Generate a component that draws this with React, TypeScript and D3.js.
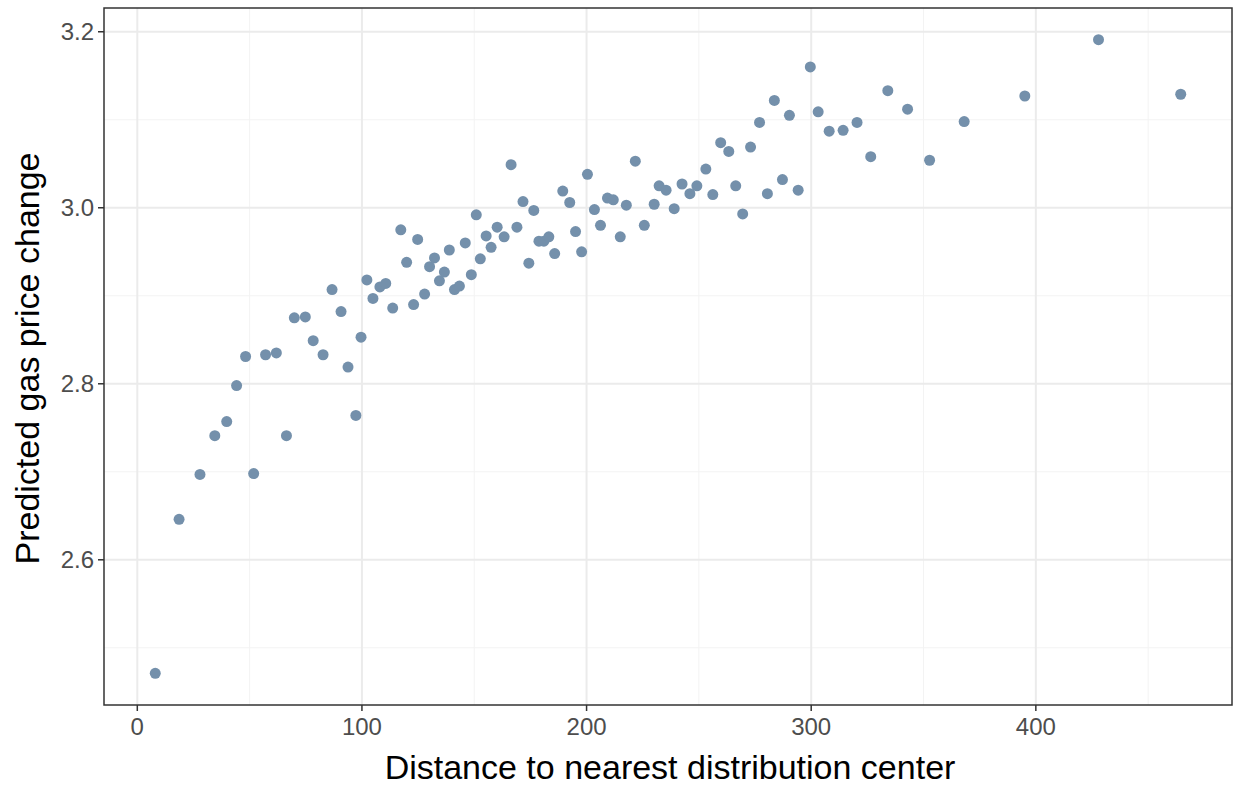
import { useEffect } from 'react';
import * as d3 from 'd3';

const distance = [8.0, 18.6, 27.9, 34.5, 39.8, 44.2, 48.2, 51.8, 57.1, 61.9, 66.4, 69.9, 74.8, 78.3, 82.7, 86.7, 90.7, 93.8, 97.3, 99.6,
  102.2, 104.9, 108.0, 110.6, 113.7, 117.3, 119.9, 123.0, 124.8, 127.9, 130.1, 132.3, 134.5, 136.7, 138.9, 141.2, 143.4, 146.0, 148.7, 150.9,
  152.7, 155.3, 157.5, 160.2, 163.3, 166.4, 169.0, 171.7, 174.3, 176.5, 178.8, 181.0, 183.2, 185.8, 189.4, 192.5, 195.1, 197.8, 200.4, 203.5,
  206.2, 209.3, 211.9, 215.0, 217.7, 221.7, 225.7, 230.1, 232.3, 235.4, 239.0, 242.5, 246.0, 249.1, 253.1, 256.2, 259.7, 263.3, 266.4, 269.5,
  273.0, 277.0, 280.5, 283.6, 287.2, 290.3, 294.2, 299.6, 303.1, 308.0, 314.2, 320.4, 326.5, 334.1, 342.9, 352.7, 368.1, 395.1, 427.9, 464.5];

const priceChange = [2.471, 2.646, 2.697, 2.741, 2.757, 2.798, 2.831, 2.698, 2.833, 2.835, 2.741, 2.875, 2.876, 2.849, 2.833, 2.907, 2.882, 2.819, 2.764, 2.853,
  2.918, 2.897, 2.910, 2.914, 2.886, 2.975, 2.938, 2.890, 2.964, 2.902, 2.933, 2.943, 2.917, 2.927, 2.952, 2.907, 2.911, 2.960, 2.924, 2.992,
  2.942, 2.968, 2.955, 2.978, 2.967, 3.049, 2.978, 3.007, 2.937, 2.997, 2.962, 2.962, 2.967, 2.948, 3.019, 3.006, 2.973, 2.950, 3.038, 2.998,
  2.980, 3.011, 3.009, 2.967, 3.003, 3.053, 2.980, 3.004, 3.025, 3.020, 2.999, 3.027, 3.016, 3.025, 3.044, 3.015, 3.074, 3.064, 3.025, 2.993,
  3.069, 3.097, 3.016, 3.122, 3.032, 3.105, 3.020, 3.160, 3.109, 3.087, 3.088, 3.097, 3.058, 3.133, 3.112, 3.054, 3.098, 3.127, 3.191, 3.129];

const xTicks = [0, 100, 200, 300, 400];
const yTicks = [2.6, 2.8, 3.0, 3.2];

export default function App() {
  useEffect(() => { document.body.style.margin = '0'; }, []);

  const width = 1238, height = 785;
  const margin = { top: 8, right: 6, bottom: 80, left: 104 };
  const x0 = d3.min(distance)!, x1 = d3.max(distance)!;
  const y0 = d3.min(priceChange)!, y1 = d3.max(priceChange)!;
  const xp = (x1 - x0) * 0.05, yp = (y1 - y0) * 0.05;
  const x = d3.scaleLinear().domain([x0 - xp, x1 + xp]).range([margin.left, width - margin.right]);
  const y = d3.scaleLinear().domain([y0 - yp, y1 + yp]).range([height - margin.bottom, margin.top]);

  const xMinor = xTicks.map(t => t + 50).filter(t => x(t) < width - margin.right);
  const yMinor = [2.5, 2.7, 2.9, 3.1];
  const font = 'Liberation Sans, Arial, sans-serif';
  const bottom = height - margin.bottom;

  return (
    <svg width={width} height={height} style={{ display: 'block', fontFamily: font }}>
      <rect x={margin.left} y={margin.top} width={width - margin.left - margin.right} height={bottom - margin.top} fill="white" />
      {xMinor.map(t => <line key={'xm' + t} x1={x(t)} x2={x(t)} y1={margin.top} y2={bottom} stroke="#f3f3f3" strokeWidth={1} />)}
      {yMinor.map(t => <line key={'ym' + t} y1={y(t)} y2={y(t)} x1={margin.left} x2={width - margin.right} stroke="#f3f3f3" strokeWidth={1} />)}
      {xTicks.map(t => <line key={'x' + t} x1={x(t)} x2={x(t)} y1={margin.top} y2={bottom} stroke="#ebebeb" strokeWidth={2} />)}
      {yTicks.map(t => <line key={'y' + t} y1={y(t)} y2={y(t)} x1={margin.left} x2={width - margin.right} stroke="#ebebeb" strokeWidth={2} />)}
      {distance.map((d, i) => <circle key={i} cx={x(d)} cy={y(priceChange[i])} r={5.5} fill="#7490ab" />)}
      <rect x={margin.left} y={margin.top} width={width - margin.left - margin.right} height={bottom - margin.top} fill="none" stroke="#333333" strokeWidth={1.5} />
      {xTicks.map(t => (
        <g key={'xt' + t}>
          <line x1={x(t)} x2={x(t)} y1={bottom} y2={bottom + 6} stroke="#333333" strokeWidth={1.5} />
          <text x={x(t)} y={bottom + 30} textAnchor="middle" fontSize={24} fill="#4d4d4d">{t}</text>
        </g>
      ))}
      {yTicks.map(t => (
        <g key={'yt' + t}>
          <line x1={margin.left - 6} x2={margin.left} y1={y(t)} y2={y(t)} stroke="#333333" strokeWidth={1.5} />
          <text x={margin.left - 10} y={y(t) + 8} textAnchor="end" fontSize={24} fill="#4d4d4d">{t.toFixed(1)}</text>
        </g>
      ))}
      <text x={(margin.left + width - margin.right) / 2 + 2} y={height - 6} textAnchor="middle" fontSize={34} fill="black">Distance to nearest distribution center</text>
      <text transform={`translate(39,${(margin.top + bottom) / 2 + 2}) rotate(-90)`} textAnchor="middle" fontSize={34} fill="black">Predicted gas price change</text>
    </svg>
  );
}
